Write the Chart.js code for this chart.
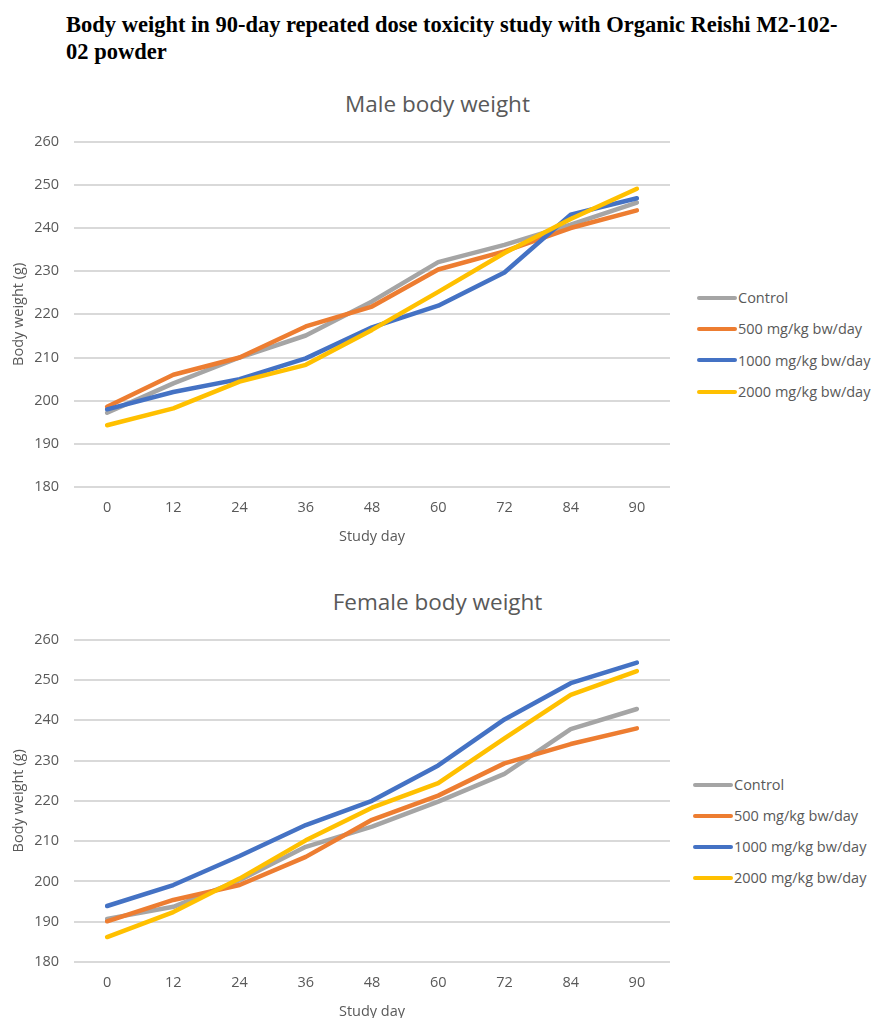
<!DOCTYPE html>
<html>
<head>
<meta charset="utf-8">
<title>Body weight in 90-day repeated dose toxicity study</title>
<script src="https://cdn.jsdelivr.net/npm/chart.js@4.4.1/dist/chart.umd.min.js"></script>
<style>
  html, body { margin: 0; padding: 0; background: #ffffff; }
  body { position: relative; width: 875px; height: 1018px; overflow: hidden; font-family: 'Open Sans', sans-serif; }
  #pageTitle {
    position: absolute; left: 66px; top: 11px; width: 805px;
    font-family: 'Liberation Serif', 'Times New Roman', serif; font-weight: bold;
    font-size: 22.5px; line-height: 27px; color: #000; white-space: nowrap;
  }
  .chartTitle {
    position: absolute; left: 0; width: 875px; text-align: center;
    font-size: 22.5px; line-height: 28px; color: #595959;
  }
  .chartBox { position: absolute; left: 0; width: 680px; }
  .chartBox canvas { display: block; }
  .legend { position: absolute; font-size: 14.5px; color: #595959; }
  .legend .item { display: flex; align-items: center; white-space: nowrap; }
  .legend .swatch { display: inline-block; width: 40px; height: 4px; border-radius: 2px; margin-right: 1px; }
</style>
</head>
<body>
<div id="pageTitle">Body weight in 90-day repeated dose toxicity study with Organic Reishi M2-102-<br>02 powder</div>

<div class="chartTitle" style="top:90px;">Male body weight</div>
<div class="chartBox" style="top:118px;height:428px;"><canvas id="maleChart" width="680" height="428"></canvas></div>
<div class="legend" id="maleLegend" style="left:697px;top:282px;"></div>

<div class="chartTitle" style="top:588px;">Female body weight</div>
<div class="chartBox" style="top:616px;height:405px;"><canvas id="femaleChart" width="680" height="405"></canvas></div>
<div class="legend" id="femaleLegend" style="left:693px;top:769px;"></div>

<script>
// Study days (category axis)
const studyDays = ['0', '12', '24', '36', '48', '60', '72', '84', '90'];

// Group names and colours
const groupNames = ['Control', '500 mg/kg bw/day', '1000 mg/kg bw/day', '2000 mg/kg bw/day'];
const groupColors = ['#A5A5A5', '#ED7D31', '#4472C4', '#FFC000'];

// Y-axis range and step (g)
const yMin = 180;
const yMax = 260;
const yStep = 10;

// Male mean body weight (g)
const maleControl = [197.2, 204.0, 210.0, 215.1, 223.0, 232.1, 236.1, 240.8, 245.9];
const male500     = [198.6, 206.0, 210.0, 217.2, 221.8, 230.4, 234.6, 240.0, 244.1];
const male1000    = [198.0, 202.0, 205.0, 209.8, 217.0, 222.0, 229.7, 243.1, 246.9];
const male2000    = [194.3, 198.2, 204.4, 208.3, 216.4, 225.2, 234.2, 242.1, 249.1];

// Female mean body weight (g)
const femaleControl = [190.7, 193.7, 200.3, 208.6, 213.6, 219.8, 226.7, 237.8, 242.8];
const female500     = [190.1, 195.4, 199.1, 206.1, 215.3, 221.3, 229.3, 234.1, 238.0];
const female1000    = [193.9, 199.1, 206.3, 214.0, 220.0, 228.8, 240.2, 249.2, 254.3];
const female2000    = [186.2, 192.4, 200.7, 210.2, 218.3, 224.4, 235.5, 246.3, 252.2];

Chart.defaults.font.family = "'Open Sans', sans-serif";
Chart.defaults.color = '#595959';

function buildDatasets(seriesList) {
  return seriesList.map((values, i) => ({
    label: groupNames[i],
    data: values,
    borderColor: groupColors[i],
    backgroundColor: groupColors[i],
    borderWidth: 4.5,
    pointRadius: 0,
    pointHoverRadius: 0,
    tension: 0,
    fill: false,
    borderCapStyle: 'round',
    borderJoinStyle: 'round',
    // later groups are painted over earlier ones
    order: seriesList.length - i
  }));
}

function makeChart(canvasId, seriesList) {
  const ctx = document.getElementById(canvasId);
  return new Chart(ctx, {
    type: 'line',
    data: { labels: studyDays, datasets: buildDatasets(seriesList) },
    options: {
      responsive: false,
      animation: false,
      events: [],
      layout: { padding: { top: 0, right: 10, bottom: 0, left: 0 } },
      plugins: {
        legend: { display: false },
        title: { display: false },
        tooltip: { enabled: false }
      },
      scales: {
        x: {
          type: 'category',
          offset: true,
          grid: { display: false, drawTicks: false },
          border: { display: false },
          ticks: { padding: 12, font: { size: 14.5 }, color: '#595959', maxRotation: 0, autoSkip: false },
          title: { display: true, text: 'Study day', font: { size: 14.5 }, color: '#595959', padding: { top: 0, bottom: 0 } },
          afterFit: (scale) => { scale.height = 59; }
        },
        y: {
          min: yMin,
          max: yMax,
          grid: { color: '#d9d9d9', lineWidth: 2, drawTicks: false },
          border: { display: false },
          ticks: { stepSize: yStep, padding: 15, font: { size: 14.5 }, color: '#595959' },
          title: { display: true, text: 'Body weight (g)', font: { size: 14.5 }, color: '#595959', padding: { top: 10, bottom: 0 } },
          afterFit: (scale) => { scale.width = 74; }
        }
      }
    }
  });
}

function buildLegend(containerId, chart, spacing) {
  const box = document.getElementById(containerId);
  chart.data.datasets.forEach((ds) => {
    const item = document.createElement('div');
    item.className = 'item';
    item.style.height = spacing + 'px';
    const sw = document.createElement('span');
    sw.className = 'swatch';
    sw.style.background = ds.borderColor;
    const txt = document.createElement('span');
    txt.textContent = ds.label;
    item.appendChild(sw);
    item.appendChild(txt);
    box.appendChild(item);
  });
}

const maleChart = makeChart('maleChart', [maleControl, male500, male1000, male2000]);
const femaleChart = makeChart('femaleChart', [femaleControl, female500, female1000, female2000]);
buildLegend('maleLegend', maleChart, 31.3);
buildLegend('femaleLegend', femaleChart, 31.1);
</script>
</body>
</html>
